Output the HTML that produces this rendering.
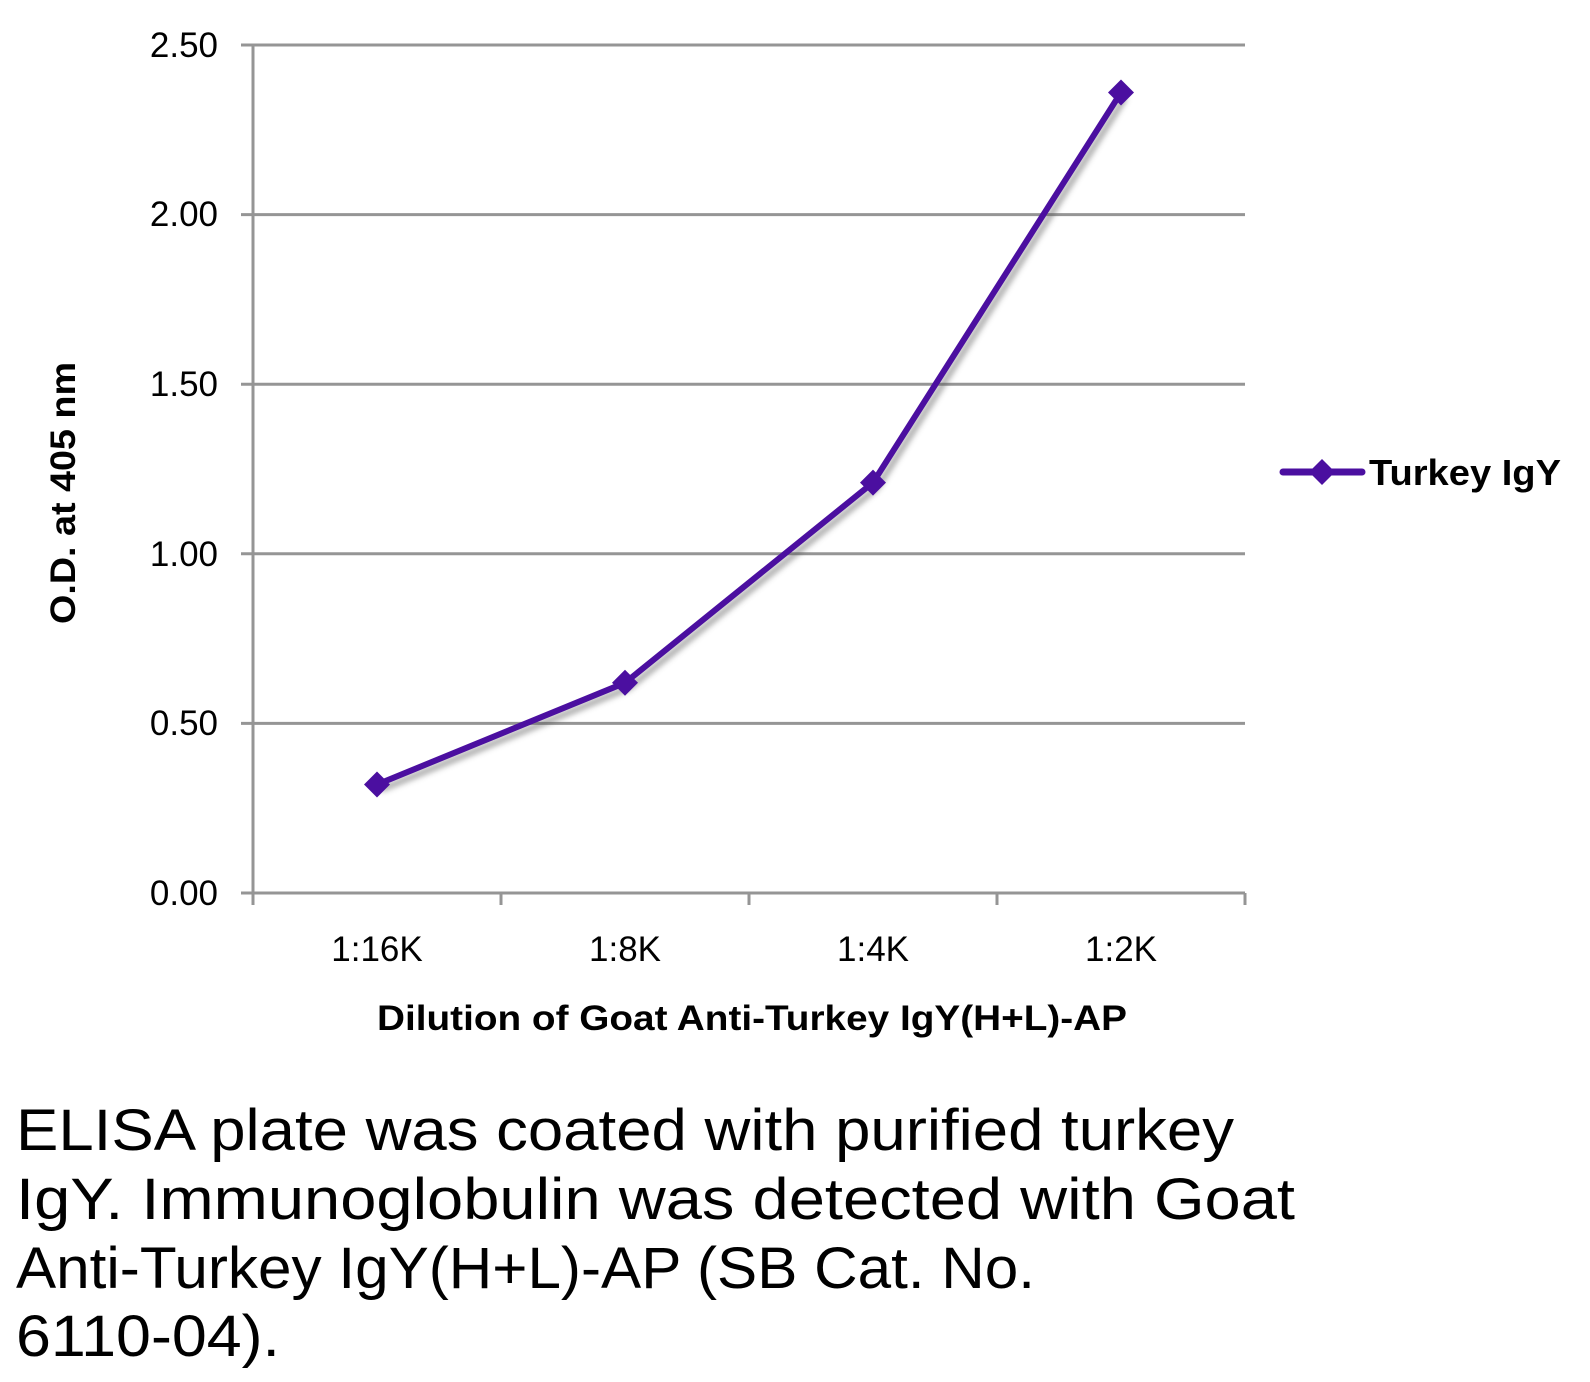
<!DOCTYPE html>
<html><head><style>
body{margin:0;background:#fff;}
</style></head><body>
<svg width="1590" height="1377" viewBox="0 0 1590 1377" xmlns="http://www.w3.org/2000/svg" font-family="'Liberation Sans', sans-serif">
<defs><filter id="sh" x="-50%" y="-50%" width="200%" height="200%"><feGaussianBlur stdDeviation="3"/></filter></defs>
<g stroke="#959595" stroke-width="3" fill="none">
<line x1="241" y1="45" x2="1245" y2="45"/>
<line x1="241" y1="214.6" x2="1245" y2="214.6"/>
<line x1="241" y1="384.2" x2="1245" y2="384.2"/>
<line x1="241" y1="553.8" x2="1245" y2="553.8"/>
<line x1="241" y1="723.4" x2="1245" y2="723.4"/>
<line x1="241" y1="893" x2="1245" y2="893"/>
<line x1="253" y1="45" x2="253" y2="905"/>
<line x1="501" y1="893" x2="501" y2="905"/>
<line x1="749" y1="893" x2="749" y2="905"/>
<line x1="997" y1="893" x2="997" y2="905"/>
<line x1="1245" y1="893" x2="1245" y2="905"/>
</g>
<g font-size="35" text-anchor="end" fill="#000">
<text x="218" y="57">2.50</text>
<text x="218" y="226">2.00</text>
<text x="218" y="396">1.50</text>
<text x="218" y="566">1.00</text>
<text x="218" y="735">0.50</text>
<text x="218" y="905">0.00</text>
</g>
<g font-size="35" text-anchor="middle" fill="#000">
<text x="377" y="961">1:16K</text>
<text x="625" y="961">1:8K</text>
<text x="873" y="961">1:4K</text>
<text x="1121" y="961">1:2K</text>
</g>
<text x="377" y="1030" font-size="35" font-weight="bold" textLength="750" lengthAdjust="spacingAndGlyphs">Dilution of Goat Anti-Turkey IgY(H+L)-AP</text>
<text transform="translate(75,624) rotate(-90)" font-size="35" font-weight="bold" textLength="262" lengthAdjust="spacingAndGlyphs">O.D. at 405 nm</text>
<g filter="url(#sh)" opacity="0.5" transform="translate(4,5)">
<polyline points="377,784.5 625,682.8 873,482.6 1121,92.5" fill="none" stroke="#555" stroke-width="6"/>
</g>
<polyline points="377,784.5 625,682.8 873,482.6 1121,92.5" fill="none" stroke="#4b0fa0" stroke-width="6" stroke-linejoin="round"/>
<g fill="#4b0fa0">
<polygon points="377,771.5 390,784.5 377,797.5 364,784.5"/>
<polygon points="625,669.8 638,682.8 625,695.8 612,682.8"/>
<polygon points="873,469.6 886,482.6 873,495.6 860,482.6"/>
<polygon points="1121,79.5 1134,92.5 1121,105.5 1108,92.5"/>
</g>
<line x1="1283" y1="472" x2="1362" y2="472" stroke="#4b0fa0" stroke-width="7" stroke-linecap="round"/>
<polygon points="1322,459 1335,472 1322,485 1309,472" fill="#4b0fa0"/>
<text x="1369" y="485" font-size="36" font-weight="bold" textLength="192" lengthAdjust="spacingAndGlyphs">Turkey IgY</text>
<g font-size="58" fill="#000">
<text x="16" y="1150" textLength="1218" lengthAdjust="spacingAndGlyphs">ELISA plate was coated with purified turkey</text>
<text x="16" y="1219" textLength="1279" lengthAdjust="spacingAndGlyphs">IgY.  Immunoglobulin was detected with Goat</text>
<text x="16" y="1288" textLength="1019" lengthAdjust="spacingAndGlyphs">Anti-Turkey IgY(H+L)-AP (SB Cat. No.</text>
<text x="16" y="1356" textLength="264" lengthAdjust="spacingAndGlyphs">6110-04).</text>
</g>
</svg>
</body></html>
